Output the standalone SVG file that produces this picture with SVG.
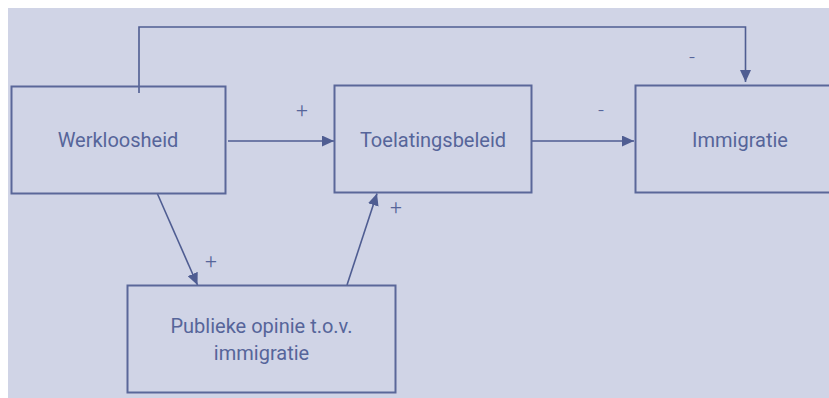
<svg xmlns="http://www.w3.org/2000/svg" width="829" height="398" viewBox="0 0 829 398">
<defs>
<style>
.box{fill:none;stroke:#5a6799;stroke-width:2}
.lbl{font-family:Roboto,"Liberation Sans",sans-serif;font-size:20px;fill:#56659a;text-anchor:middle}
.sign{font-family:Roboto,"Liberation Sans",sans-serif;font-size:21px;font-weight:300;fill:#56659a;text-anchor:middle}
.con{fill:none;stroke:#4f5d92;stroke-width:1.6}
</style>
<marker id="arr" markerUnits="userSpaceOnUse" markerWidth="12" markerHeight="11" refX="12" refY="5.5" orient="auto">
<path d="M0,0 L12,5.5 L0,11 z" fill="#4f5d92"/>
</marker>
</defs>
<rect x="0" y="0" width="829" height="398" fill="#ffffff"/>
<rect x="8" y="8" width="821" height="390" fill="#d0d4e6"/>
<g id="connectors">
<polyline class="con" points="139,93 139,27 745.5,27 745.5,82" marker-end="url(#arr)"/>
<line class="con" x1="228" y1="141" x2="334" y2="141" marker-end="url(#arr)"/>
<line class="con" x1="532" y1="141" x2="634" y2="141" marker-end="url(#arr)"/>
<line class="con" x1="157.5" y1="194" x2="197.5" y2="285" marker-end="url(#arr)"/>
<line class="con" x1="347" y1="285" x2="377" y2="193.5" marker-end="url(#arr)"/>
<text class="sign" x="302" y="117">+</text>
<text class="sign" x="601" y="117">-</text>
<text class="sign" x="692" y="64">-</text>
<text class="sign" x="396" y="214">+</text>
<text class="sign" x="211" y="268">+</text>
</g>
<g id="werkloosheid">
<rect class="box" x="11.5" y="86.5" width="214" height="107"/>
<text class="lbl" x="118" y="147">Werkloosheid</text>
</g>
<g id="toelatingsbeleid">
<rect class="box" x="334.5" y="85.5" width="197" height="107"/>
<text class="lbl" x="433" y="147">Toelatingsbeleid</text>
</g>
<g id="immigratie">
<rect class="box" x="635.5" y="85.5" width="210" height="107"/>
<text class="lbl" x="740" y="147">Immigratie</text>
</g>
<g id="publieke-opinie">
<rect class="box" x="127.5" y="285.5" width="268" height="107"/>
<text class="lbl" x="261.5" y="333">Publieke opinie t.o.v.</text>
<text class="lbl" x="261.5" y="360">immigratie</text>
</g>
</svg>
